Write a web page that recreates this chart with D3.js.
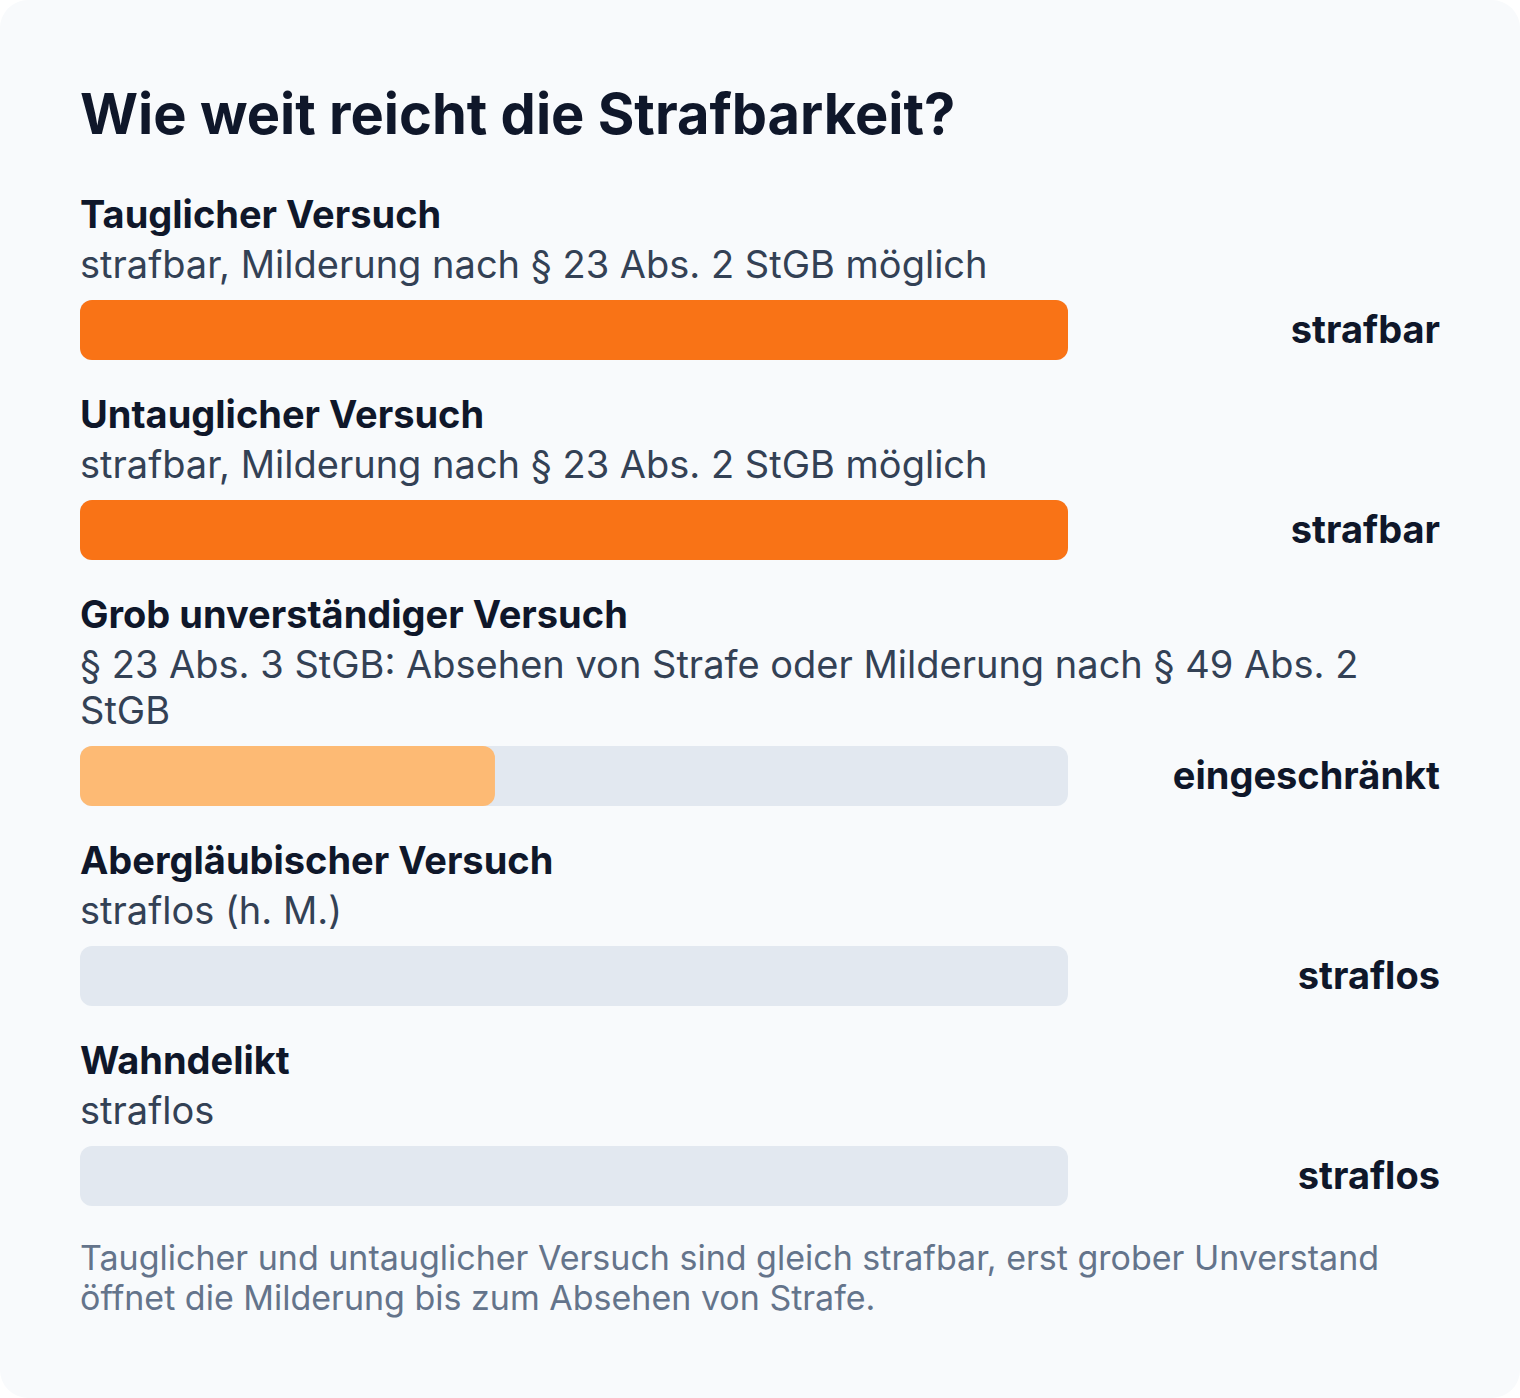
<!DOCTYPE html>
<html><head><meta charset="utf-8">
<script src="https://cdn.jsdelivr.net/npm/d3@7"></script>
<style>body{margin:0;background:#fff;font-family:Inter,"Noto Sans",sans-serif}</style>
</head><body><svg id="c" width="1520" height="1398"></svg>
<script>
const title = "Wie weit reicht die Strafbarkeit?";
const categories = ["Tauglicher Versuch","Untauglicher Versuch","Grob unverständiger Versuch","Abergläubischer Versuch","Wahndelikt"];
const descriptions = ["strafbar, Milderung nach § 23 Abs. 2 StGB möglich","strafbar, Milderung nach § 23 Abs. 2 StGB möglich","§ 23 Abs. 3 StGB: Absehen von Strafe oder Milderung nach § 49 Abs. 2 StGB","straflos (h. M.)","straflos"];
const values = [100,100,42,0,0];
const statusLabels = ["strafbar","strafbar","eingeschränkt","straflos","straflos"];
const levels = ["full","full","partial","none","none"];
const footnote = "Tauglicher und untauglicher Versuch sind gleich strafbar, erst grober Unverstand öffnet die Milderung bis zum Absehen von Strafe.";

const svg = d3.select("#c");
svg.append("rect").attr("x",0).attr("y",0).attr("width",1520).attr("height",1398).attr("rx",28).attr("fill","#f8fafc");
svg.append("text").attr("x",80).attr("y",134).attr("font-size",56).attr("font-weight",700).attr("fill","#0f172a").text(title);
const x = d3.scaleLinear().domain([0,100]).range([80,1068]);
const color = d3.scaleOrdinal().domain(["full","partial","none"]).range(["#f97316","#fdba74","#e2e8f0"]);

function wrap(g, text, xPos, y0, size, lh, maxW, fill){
  const words = text.split(" "); let line=[]; let y=y0;
  let t = g.append("text").attr("x",xPos).attr("y",y).attr("font-size",size).attr("fill",fill);
  let n=1;
  for(const w of words){
    line.push(w); t.text(line.join(" "));
    if(t.node().getComputedTextLength()>maxW && line.length>1){
      line.pop(); t.text(line.join(" ")); line=[w]; y+=lh; n++;
      t = g.append("text").attr("x",xPos).attr("y",y).attr("font-size",size).attr("fill",fill).text(w);
    }
  }
  return n;
}
let y = 228;
categories.forEach((c,i)=>{
  const g = svg.append("g");
  g.append("text").attr("x",80).attr("y",y).attr("font-size",38).attr("font-weight",700).attr("fill","#0f172a").text(c);
  const n = wrap(g, descriptions[i], 80, y+50, 38, 46, 1320, "#334155");
  const by = y+72+(n-1)*46;
  g.append("rect").attr("x",x(0)).attr("y",by).attr("width",x(100)-x(0)).attr("height",60).attr("rx",12).attr("fill","#e2e8f0");
  if(values[i]>0) g.append("rect").attr("x",x(0)).attr("y",by).attr("width",x(values[i])-x(0)).attr("height",60).attr("rx",12).attr("fill",color(levels[i]));
  g.append("text").attr("x",1440).attr("y",by+30).attr("dy","0.35em").attr("text-anchor","end").attr("font-size",38).attr("font-weight",700).attr("fill","#0f172a").text(statusLabels[i]);
  y = by + 60 + 68;
});
wrap(svg.append("g"), footnote, 80, 1270, 34, 40, 1330, "#64748b");
</script></body></html>
